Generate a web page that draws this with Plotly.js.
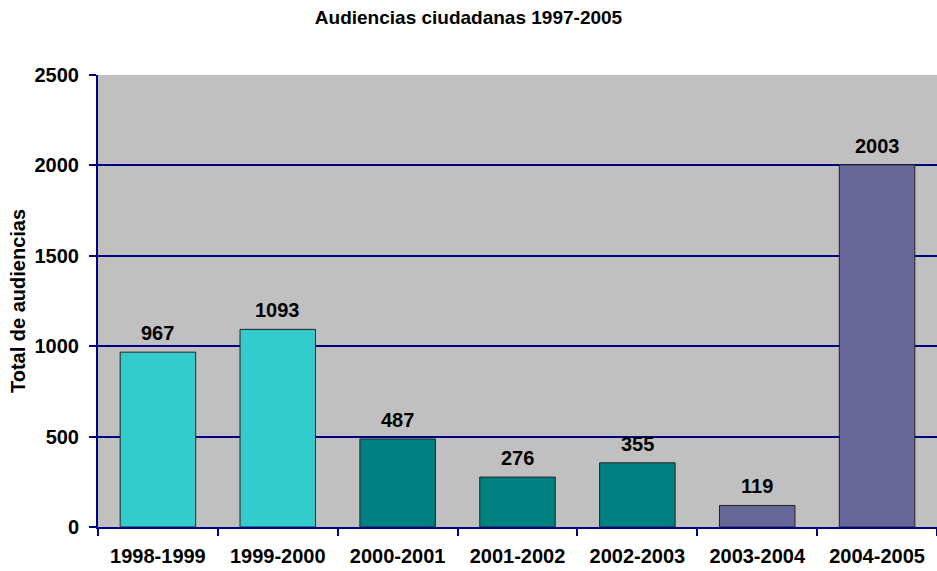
<!DOCTYPE html>
<html>
<head>
<meta charset="utf-8">
<script src="https://cdn.plot.ly/plotly-3.0.1.min.js"></script>
<style>html,body{margin:0;padding:0;background:#fff;}#chart{width:937px;height:571px;}</style>
</head>
<body>
<div id="chart"></div>
<script>
const categories = ["1998-1999", "1999-2000", "2000-2001", "2001-2002", "2002-2003", "2003-2004", "2004-2005"];
const values = [967, 1093, 487, 276, 355, 119, 2003];
const barColors = ["#33CCCC", "#33CCCC", "#008080", "#008080", "#008080", "#666699", "#666699"];
const yTicks = [0, 500, 1000, 1500, 2000, 2500];

const font = "Liberation Sans, Arial, sans-serif";
const navy = "#000080";

const trace = {
  type: "bar",
  x: categories,
  y: values,
  marker: { color: barColors, line: { color: "#222222", width: 1 } },
  hoverinfo: "x+y"
};

const annotations = categories.map((c, i) => ({
  x: c, y: values[i], text: "<b>" + values[i] + "</b>",
  showarrow: false, yanchor: "bottom", yshift: 6,
  font: { family: font, size: 20, color: "#000" }
}));

const layout = {
  width: 937, height: 571,
  margin: { l: 98, r: 0, t: 75, b: 44 },
  paper_bgcolor: "#ffffff",
  plot_bgcolor: "#C0C0C0",
  bargap: 0.37,
  showlegend: false,
  title: {
    text: "<b>Audiencias ciudadanas 1997-2005</b>",
    font: { family: font, size: 19, color: "#000" },
    x: 0.5, xanchor: "center", y: 0.97, yanchor: "middle", yref: "container"
  },
  xaxis: {
    type: "category",
    tickson: "boundaries",
    ticks: "outside", ticklen: 7, tickwidth: 2, tickcolor: navy,
    showline: true, linecolor: navy, linewidth: 2,
    showgrid: false,
    tickfont: { family: font, size: 20, color: "#000", weight: "bold" },
    ticklabelstandoff: 10
  },
  yaxis: {
    range: [0, 2500],
    tickvals: yTicks,
    ticktext: yTicks.map(String),
    ticks: "outside", ticklen: 7, tickwidth: 2, tickcolor: navy,
    showline: true, linecolor: navy, linewidth: 2,
    showgrid: true, gridcolor: navy, gridwidth: 2,
    zeroline: false,
    tickfont: { family: font, size: 20, color: "#000", weight: "bold" },
    ticklabelstandoff: 6,
    title: {
      text: "<b>Total de audiencias</b>",
      font: { family: font, size: 20, color: "#000" },
      standoff: 4
    }
  },
  annotations: annotations
};

Plotly.newPlot("chart", [trace], layout, { displayModeBar: false, staticPlot: true });
</script>
</body>
</html>
